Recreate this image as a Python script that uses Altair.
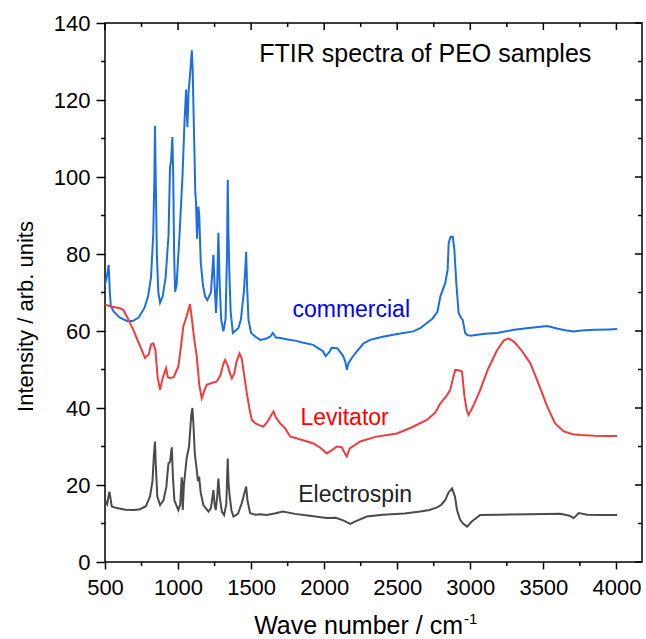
import altair as alt
import pandas as pd

# ---------------- data ----------------
com_x = [500, 512, 525, 533, 540, 560, 600, 650, 690, 730, 770, 795, 815, 830, 838, 842, 847, 855, 865, 877,
         895, 915, 935, 945, 952, 961, 967, 973, 980, 990, 1010, 1030, 1045, 1055, 1064, 1072, 1085, 1094, 1100,
         1110, 1118, 1123, 1130, 1139, 1145, 1155, 1170, 1185, 1200, 1225, 1242, 1250, 1260, 1268, 1276, 1285,
         1295, 1310, 1325, 1335, 1340, 1345, 1351, 1360, 1375, 1390, 1413, 1430, 1450, 1460, 1466, 1472, 1482,
         1500, 1530, 1562, 1600, 1630, 1649, 1670, 1700, 1750, 1800, 1850, 1925, 1960, 1990, 2010, 2018, 2035,
         2050, 2064, 2090, 2110, 2130, 2145, 2155, 2165, 2189, 2230, 2270, 2315, 2400, 2500, 2610, 2660, 2703,
         2740, 2775, 2795, 2829, 2845, 2852, 2865, 2880, 2891, 2905, 2920, 2935, 2948, 2965, 2978, 3000, 3100,
         3183, 3300, 3400, 3526, 3600, 3650, 3708, 3760, 3850, 3950, 4005]
com_y = [72, 74, 77.2, 70, 66.5, 65, 63.5, 62.6, 62.6, 63.5, 66, 69, 74, 85, 100, 113.3, 100, 80, 70, 67.3,
         69, 74, 85, 102.7, 104, 110.4, 100, 80, 70.2, 72, 85, 100, 115, 122.7, 113, 122, 128, 132.9, 128,
         110, 96, 93.3, 84, 92.3, 90, 78, 72, 69, 68, 70, 79.8, 72, 64.7, 72, 85.5, 72,
         63, 59.9, 63, 80, 99.3, 85, 75, 65, 59.5, 60, 60.8, 63, 70, 76, 80.6, 72, 62.9,
         59.5, 58.5, 57.7, 58, 58.5, 59.5, 58.3, 58.2, 57.8, 57.5, 57, 56.4, 55.5, 54.8, 53.5, 53.8, 54.5,
         55.6, 55.6, 55.5, 54.5, 53.5, 52, 49.9, 51.5, 53, 55, 56.8, 57.7, 58.5, 59.2, 59.9, 60.8, 62.1,
         63.2, 65, 69, 72.5, 76, 82.9, 84.5, 84.5, 81, 72, 64.7, 63.5, 62.9, 59.5, 59, 58.8, 59.3,
         59.5, 60.3, 60.8, 61.3, 60.6, 60.2, 59.9, 60.1, 60.3, 60.4, 60.5]

lev_x = [500, 550, 603, 625, 660, 694, 730, 774, 800, 815, 831, 845, 860, 877, 890, 905, 918, 930, 945, 970,
         1002, 1020, 1036, 1060, 1082, 1095, 1110, 1128, 1145, 1162, 1180, 1196, 1230, 1265, 1290, 1310, 1322,
         1340, 1355, 1368, 1385, 1400, 1420, 1435, 1447, 1470, 1490, 1505, 1530, 1560, 1584, 1610, 1635, 1653,
         1670, 1699, 1733, 1767, 1850, 1927, 1980, 2018, 2050, 2087, 2120, 2145, 2155, 2175, 2247, 2350, 2498,
         2600, 2703, 2760, 2795, 2835, 2863, 2880, 2897, 2920, 2943, 2960, 2975, 2988, 3020, 3068, 3120, 3180,
         3230, 3262, 3300, 3350, 3411, 3470, 3526, 3580, 3640, 3700, 3754, 3850, 3950, 4005]
lev_y = [66.8, 66.3, 65.9, 65.5, 63, 60.3, 57, 53, 54, 56.5, 56.8, 55, 48, 44.7, 47, 49, 50.4, 48, 47.8, 48,
         50.8, 56, 61.2, 64, 67, 63, 58, 53.4, 46, 42.5, 44.5, 46, 46.5, 46.9, 48.5, 51.5, 52.5,
         51, 49, 47.7, 49, 52, 54.2, 53, 49.9, 44, 39.5, 36.9, 36, 35.5, 35.2, 36.3, 38, 39.1,
         37.5, 36, 34.7, 32.6, 31.7, 30.8, 29.5, 28.2, 29, 30, 29.8, 28, 27.4, 29.5, 31.3, 32.5, 33.4,
         35, 36.9, 38.8, 41.2, 43, 44.7, 47.5, 49.9, 49.8, 49.5, 43, 39.5, 38.2, 40.5, 44.7, 50, 54.8,
         57.6, 58.1, 57.2, 55, 51.6, 46, 40.4, 36, 33.9, 33.2, 33, 32.8, 32.7, 32.7]

ele_x = [500, 515, 530, 540, 546, 580, 640, 700, 740, 780, 808, 825, 835, 842, 848, 858, 877, 900, 920, 934,
         945, 957, 965, 975, 1002, 1015, 1025, 1029, 1032, 1040, 1059, 1075, 1090, 1098, 1105, 1115, 1128, 1136,
         1144, 1155, 1173, 1208, 1225, 1242, 1250, 1258, 1268, 1276, 1285, 1300, 1315, 1330, 1340, 1345, 1351,
         1365, 1379, 1410, 1436, 1455, 1466, 1475, 1493, 1530, 1562, 1607, 1660, 1717, 1800, 1900, 2018, 2080,
         2130, 2178, 2210, 2292, 2400, 2550, 2658, 2720, 2772, 2800, 2829, 2850, 2875, 2895, 2909, 2930, 2950,
         2978, 3010, 3068, 3200, 3400, 3616, 3680, 3708, 3742, 3800, 3900, 4005]
ele_y = [16.1, 15, 18.3, 16, 14.4, 14, 13.6, 13.5, 13.7, 14.5, 17, 21, 28, 31.3, 25, 17, 14.8, 16, 19.5, 25.6,
         26, 29.8, 22, 16, 13.5, 15, 22, 20, 13.5, 20, 27, 30, 38, 40, 36, 28, 23.9, 21,
         22.2, 18, 14.8, 13.1, 14, 18.7, 15, 13.5, 17, 21.7, 17, 13, 12.2, 15, 26.9, 21, 17.9,
         13.5, 11.8, 12.5, 15.3, 18, 19.6, 16, 12.7, 12.3, 12.4, 12.2, 12.6, 13.1, 12.5, 12, 11.4, 11.5,
         10.8, 9.9, 10.5, 11.8, 12.3, 12.6, 13.1, 13.5, 14.2, 14.8, 16.1, 18, 19.1, 17, 13.5, 11, 10,
         9.2, 10.5, 12.2, 12.3, 12.4, 12.5, 12, 11.4, 12.7, 12.3, 12.2, 12.2]

series_names = ["commercial", "Levitator", "Electrospin"]
series_colors = ["#1b6fe0", "#f03c3c", "#4a4a4a"]
label_colors = ["#0000ff", "#ff0000", "#222222"]
label_x = [2185, 2140, 2212]
label_y = [63.7, 35.6, 15.7]

title_text = "FTIR spectra of PEO samples"
title_x = [2692]
title_y = [130.0]

x_ticks = [500, 1000, 1500, 2000, 2500, 3000, 3500, 4000]
x_minor = [750, 1250, 1750, 2250, 2750, 3250, 3750]
y_ticks = [0, 20, 40, 60, 80, 100, 120, 140]
y_minor = [10, 30, 50, 70, 90, 110, 130]

X_DOMAIN = [500, 4175]
Y_DOMAIN = [0, 140]
W, H = 537, 539
FONT = "Liberation Sans"

# ---------------- build tables ----------------
rows = []
for name, xs_, ys_ in zip(series_names, [com_x, lev_x, ele_x], [com_y, lev_y, ele_y]):
    for i, (a, b) in enumerate(zip(xs_, ys_)):
        rows.append({"series": name, "x": a, "y": b, "i": i})
df = pd.DataFrame(rows)

xs = alt.Scale(domain=X_DOMAIN, nice=False, zero=False)
ys = alt.Scale(domain=Y_DOMAIN, nice=False, zero=False)
x_axis = alt.Axis(values=x_ticks, tickSize=7, labelPadding=8, title=None, format="d",
                  labelFlush=False, labelOverlap=False, domain=False)
y_axis = alt.Axis(values=y_ticks, tickSize=9, labelPadding=6, format="d",
                  title="Intensity / arb. units", titleX=-80, titleY=293,
                  titleAngle=270, titleAlign="center", titleBaseline="middle",
                  labelFlush=False, labelOverlap=False, domain=False)
X = alt.X("x:Q", scale=xs, axis=x_axis)
Y = alt.Y("y:Q", scale=ys, axis=y_axis)

lines = alt.Chart(df).mark_line(strokeWidth=2, clip=True).encode(
    x=X, y=Y,
    color=alt.Color("series:N", scale=alt.Scale(domain=series_names, range=series_colors), legend=None),
    order="i:Q",
    detail="series:N",
)

lab_df = pd.DataFrame({"series": series_names, "x": label_x, "y": label_y, "c": label_colors})
labels = alt.Chart(lab_df).mark_text(font=FONT, fontSize=23, align="center", baseline="alphabetic").encode(
    x=X, y=Y,
    text="series:N",
    color=alt.Color("c:N", scale=None),
)

title_df = pd.DataFrame({"t": [title_text], "x": title_x, "y": title_y})
title = alt.Chart(title_df).mark_text(font=FONT, fontSize=25, align="center", baseline="alphabetic",
                                      color="black").encode(x=X, y=Y, text="t:N")

xt = pd.DataFrame({"x": ["Wave number / cm"]})
xtitle = alt.Chart(xt).mark_text(font=FONT, fontSize=25, align="right", baseline="alphabetic",
                                 color="black").encode(
    x=alt.value(358), y=alt.value(611), text="x:N")
sup = pd.DataFrame({"x": ["-1"]})
xsup = alt.Chart(sup).mark_text(font=FONT, fontSize=15, align="left", baseline="alphabetic",
                                color="black").encode(
    x=alt.value(359), y=alt.value(601), text="x:N")

def vrule(vals, y0, y1):
    return alt.Chart(pd.DataFrame({"x": vals})).mark_rule(color="black", strokeWidth=1.5).encode(
        x=X, y=alt.value(y0), y2=alt.value(y1))

def hrule(vals, x0, x1):
    return alt.Chart(pd.DataFrame({"y": vals})).mark_rule(color="black", strokeWidth=1.5).encode(
        y=Y, x=alt.value(x0), x2=alt.value(x1))

ticks = [
    vrule(x_minor, H, H + 4),          # bottom minor (outward)
    vrule(x_ticks, 0, 7),              # top major (inward)
    vrule(x_minor, 0, 4),              # top minor (inward)
    hrule(y_minor, -4, 0),             # left minor (outward)
    hrule(y_ticks, W - 7, W),          # right major (inward)
    hrule(y_minor, W - 4, W),          # right minor (inward)
]

chart = alt.layer(lines, labels, title, xtitle, xsup, *ticks).properties(
    width=W, height=H,
    autosize=alt.AutoSizeParams(type="none"),
    padding={"left": 105, "top": 23, "right": 4, "bottom": 77},
    background="white",
).configure_view(stroke="black", strokeWidth=1.5).configure_axis(
    labelFont=FONT, labelFontSize=22, labelColor="black", tickColor="black", tickWidth=1.5,
    titleFont=FONT, titleFontSize=22, titleFontWeight="normal", titleColor="black", grid=False,
)

chart.save("out.html", embed_options={"renderer": "svg", "actions": False})
